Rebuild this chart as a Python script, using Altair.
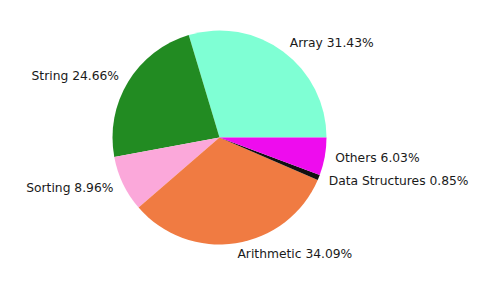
import math
import altair as alt
import pandas as pd

categories = ["Array", "String", "Sorting", "Arithmetic", "Data Structures", "Others"]
percents = [31.43, 24.66, 8.96, 34.09, 0.85, 6.03]
colors = ["#7FFFD4", "#228B22", "#FBA8DA", "#F07B42", "#111111", "#EE0CEE"]
# drawing order clockwise from 3 o'clock (matplotlib draws counter-clockwise)
draw_order = ["Others", "Data Structures", "Arithmetic", "Sorting", "String", "Array"]

df = pd.DataFrame({
    "cat": categories,
    "pct": percents,
    "label": [f"{c} {p:.2f}%" for c, p in zip(categories, percents)],
    "ord": [draw_order.index(c) for c in categories],
})

R = 107
theta_scale = alt.Scale(range=[math.pi / 2, math.pi / 2 + 2 * math.pi])
color_scale = alt.Scale(domain=categories, range=colors)

base = alt.Chart(df)

pie = base.mark_arc(outerRadius=R, stroke=None).encode(
    theta=alt.Theta("pct:Q", stack=True, scale=theta_scale),
    color=alt.Color("cat:N", scale=color_scale, legend=None),
    order=alt.Order("ord:Q", sort="ascending"),
)

lab = base.transform_joinaggregate(total="sum(pct)").transform_window(
    cum="sum(pct)", sort=[alt.SortField("ord", order="ascending")]
).transform_calculate(
    mid="(datum.cum - datum.pct/2)/datum.total",
).transform_calculate(
    right="sin(PI/2 + 2*PI*datum.mid) > 0",
).transform_calculate(
    lblR="datum.right ? datum.label : ''",
    lblL="datum.right ? '' : datum.label",
)

txt_kw = dict(radius=R * 1.1, font="DejaVu Sans", fontSize=12.3, color="#1a1a1a", baseline="middle")
enc = dict(
    theta=alt.Theta("pct:Q", stack=True, scale=theta_scale),
    order=alt.Order("ord:Q", sort="ascending"),
)
right_txt = lab.mark_text(align="left", **txt_kw).encode(text="lblR:N", **enc)
left_txt = lab.mark_text(align="right", **txt_kw).encode(text="lblL:N", **enc)

chart = alt.layer(pie, right_txt, left_txt).properties(
    width=423, height=259, padding=0, background="white"
).configure_view(stroke=None)

chart.save("out.html", embed_options={"renderer": "svg", "actions": False})
